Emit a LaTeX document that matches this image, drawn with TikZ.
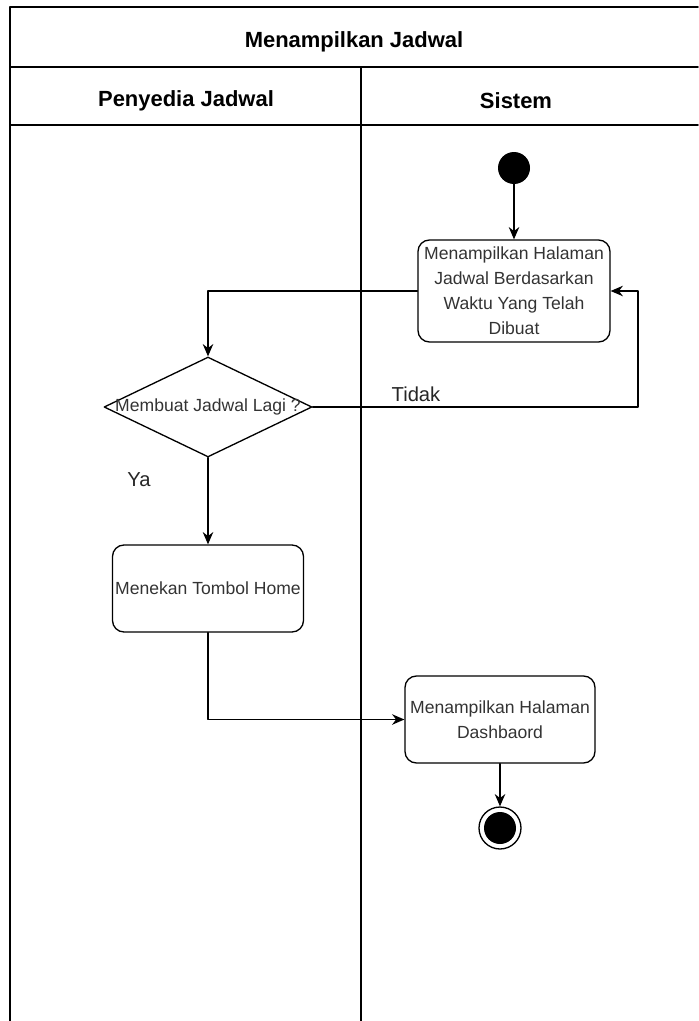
\documentclass[tikz,border=0pt]{standalone}
\usepackage{fontspec}
\setmainfont{Liberation Sans}
\usetikzlibrary{arrows.meta,shapes.geometric}

\begin{document}
\begin{tikzpicture}[x=0.02cm,y=-0.02cm,line cap=round,line join=round,
  lane/.style={line width=0.9pt},
  head/.style={font=\bfseries\fontsize{12.5}{14}\selectfont},
  act/.style={draw,line width=0.75pt,rounded corners=6.5pt,align=center,
    font=\fontsize{10}{14.2}\selectfont,text=black!80,inner sep=0pt},
  decision/.style={draw,diamond,line width=0.75pt,aspect=2.08,inner sep=0pt,
    minimum width=4.16cm,minimum height=2cm},
  startdot/.style={circle,fill=black,inner sep=0pt,minimum size=0.64cm},
  endring/.style={circle,draw,line width=0.75pt,inner sep=0pt,minimum size=0.84cm},
  flow/.style={line width=0.75pt,-{Stealth[length=7pt,width=6pt]}},
  guard/.style={font=\fontsize{11.5}{14}\selectfont,text=black!85}]
  \useasboundingbox (0,0) rectangle (698,1021);
  % swimlanes
  \draw[lane] (698,7) -- (10,7) -- (10,1021);
  \draw[lane] (10,67) -- (698,67);
  \draw[lane] (10,125) -- (698,125);
  \draw[lane] (361,67) -- (361,1021);
  \node[head] (title) at (354,42) {Menampilkan Jadwal};
  \node[head] (provider) at (186,101) {Penyedia Jadwal};
  \node[head] (system) at (516,101) {Sistem};
  % activities
  \node[startdot] (start) at (514,168) {};
  \node[act,minimum width=3.84cm,minimum height=2.04cm] (show) at (514,291)
    {Menampilkan Halaman\\Jadwal Berdasarkan\\Waktu Yang Telah\\Dibuat};
  \node[decision] (ask) at (208,407) {};
  \node[font=\fontsize{10}{12}\selectfont,text=black!80] (asktext) at (ask) {Membuat Jadwal Lagi ?};
  \node[act,minimum width=3.82cm,minimum height=1.74cm] (home) at (208,588.5)
    {Menekan Tombol Home};
  \node[act,minimum width=3.8cm,minimum height=1.74cm] (dash) at (500,719.5)
    {Menampilkan Halaman\\Dashbaord};
  \node[endring] (stop) at (500,828) {};
  \node[startdot] (stopdot) at (stop) {};
  \coordinate (back) at (638,407);
  % transitions
  \draw[flow] (start) -- (show);
  \draw[flow] (show.west) -| (ask.north);
  \draw[flow] (ask.east) -- (back) |- (show.east);
  \draw[flow] (ask.south) -- (home.north);
  \draw[flow] (home.south) |- (dash.west);
  \draw[flow] (dash.south) -- (stop.north);
  \node[guard] (no) at (416,394) {Tidak};
  \node[guard] (yes) at (139,480) {Ya};
\end{tikzpicture}
\end{document}
